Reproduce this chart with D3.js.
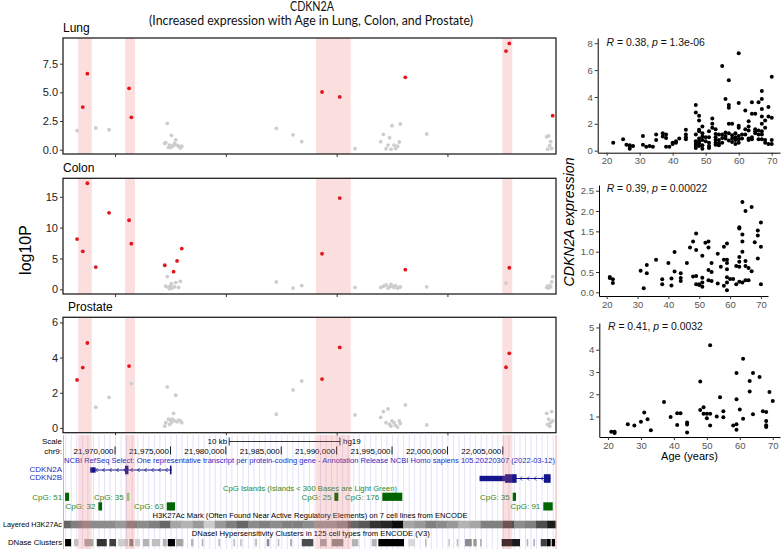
<!DOCTYPE html>
<html><head><meta charset="utf-8">
<script src="https://cdn.jsdelivr.net/npm/d3@7"></script>
<style>body{margin:0;background:#fff}svg{display:block}</style>
</head><body>
<svg id="c" width="784" height="549"></svg>
<script>
// ---------------- DATA ----------------
const probePos = [21966570,21967085,21967500,21968258,21969458,21971264,21971471,
 21974485,21974576,21974711,21974828,21974919,21975009,21975081,21975171,21975280,21975370,21975478,21975596,21975731,21975893,21976020,
 21984557,21986065,21986850,21988682,21990279,21991660,
 21993979,21994214,21994458,21994638,21994774,21994909,21994999,21995180,21995315,21995496,21995658,21995748,
 21996200,21998131,22005288,22005586,
 22008961,22009051,22009141,22009232,22009322,22009412,22009502];
const lungLog10P = [1.66,3.72,6.63,1.89,1.74,5.35,2.82,
 0.55,0.61,2.3,0.2,0.4,0.2,1.25,0.3,0.36,0.55,0.85,0.4,0.3,0.15,0.3,
 1.86,1.3,0.7,5.03,4.6,0.09,
 0.7,1.34,0.09,0.4,1.04,0.05,2.09,0.4,0.1,0.3,0.67,2.24,
 6.31,1.37,8.6,9.27,
 1.13,0.05,1.2,0.35,0.7,0.1,2.97];
const lungSig = [0,1,1,0,0,1,1, 0,0,0,0,0,0,0,0,0,0,0,0,0,0,0, 0,0,0,1,1,0, 0,0,0,0,0,0,0,0,0,0,0,0, 1,0,1,1, 0,0,0,0,0,0,1];
const colonLog10P = [8.15,6.16,17.2,3.6,12.4,11.2,7.4,
 3.9,0.5,2.05,0.3,0.1,0.6,0.9,0.2,2.86,0.4,1.1,4.6,0.3,1.3,6.6,
 1.2,0.2,0.6,5.77,14.8,0.3,
 0.3,0.5,0.7,0.2,0.4,0.8,0.5,0.3,0.6,0.2,0.3,0.4,
 3.18,0.4,1.0,3.5,
 0.3,0.5,0.2,0.6,0.4,1.2,2.05];
const colonSig = [1,1,1,1,1,1,1, 1,0,0,0,0,0,0,0,1,0,0,1,0,0,1, 0,0,0,1,1,0, 0,0,0,0,0,0,0,0,0,0,0,0, 1,0,0,1, 0,0,0,0,0,0,0];
const prostateLog10P = [2.73,3.43,4.83,1.18,1.74,3.52,2.52,
 0.1,0.3,2.33,0.5,0.2,0.45,0.3,0.5,0.83,0.4,1.86,0.35,0.45,0.4,0.3,
 0.78,2.16,2.67,2.78,4.58,0.74,
 0.6,0.93,0.3,1.08,0.2,0.1,0.4,0.3,0.15,0.05,0.4,0.25,
 1.31,0.17,3.45,4.24,
 0.83,0.2,0.5,0.1,0.3,0.93,0.4];
const prostateSig = [1,1,1,0,0,1,0, 0,0,0,0,0,0,0,0,0,0,0,0,0,0,0, 0,0,0,1,1,0, 0,0,0,0,0,0,0,0,0,0,0,0, 0,0,1,1, 0,0,0,0,0,0,0];
const highlightRegions = [[21966661,21967897],[21970903,21971805],[21988140,21991271],[22004955,22005856]];
const panelAxisTicks = [21970000,21980000,21990000,22000000];
const browserTicks = [21970000,21975000,21980000,21985000,21990000,21995000,22000000,22005000];

// genes: [start, end, height-type] blocks; 'u' = UTR (thin), 'c' = coding (thick)
const geneNames = ["CDKN2A","CDKN2B"];
const geneSpans = [[21967751,21975098],[22002903,22009312]];
const geneBlocks = [
 [[21967751,21968241,'u'],[21970901,21971207,'c'],[21974950,21975098,'c']],
 [[22002903,22005200,'u'],[22005200,22006246,'c'],[22008706,22009312,'c']]
];
// CpG islands: start, end, label, row, light
const cpgIslands = [
 [21965488,21965849,"CpG: 51",0,0],
 [21968493,21968827,"CpG: 32",1,0],
 [21971056,21971291,"CpG: 35",0,1],
 [21974666,21975415,"CpG: 63",1,0],
 [21989792,21990153,"CpG: 25",0,0],
 [21994123,21995928,"CpG: 176",0,0],
 [22005893,22006190,"CpG: 35",0,0],
 [22008654,22009502,"CpG: 91",1,0]
];
// H3K27Ac layered signal: 1 kb bins starting at 21,965,000 (darkness 0..1)
const h3k27acBinStart = 21965000;
const h3k27acDark = [0.6,0.5,0.45,0.45,0.45,0.4,0.5,0.45,0.5,0.6,0.35,0.3,0.4,0.2,0.4,0.5,0.6,0.45,0.5,0.45,
 0.5,0.5,0.45,0.4,0.4,0.45,0.6,0.65,0.8,0.85,0.95,0.35,0.4,0.5,0.45,0.4,0.3,0.35,0.5,0.5,0.7,0.45,0.5,0.7,0.9];
// DNase clusters: start, end, darkness
const dnaseClusters = [
 [21965488,21966029,1.0],[21966300,21966688,0.25],[21967229,21968042,0.35],[21968348,21969251,0.8],
 [21969486,21970090,0.75],[21970271,21971173,0.2],[21971291,21971652,0.5],[21971805,21972256,0.2],
 [21972500,21973096,0.3],[21973312,21974061,0.25],[21974305,21974666,0.3],[21974756,21975415,1.0],
 [21975505,21976164,0.35],[21976859,21977067,0.3],[21977825,21977969,0.3],[21979323,21979476,0.25],
 [21980677,21980830,0.25],[21981281,21981462,0.2],[21982635,21982816,0.25],[21983691,21983925,0.45],
 [21984684,21984828,0.25],[21985794,21985974,0.3],[21986850,21987897,0.7],[21988501,21989106,0.35],
 [21989557,21990604,0.45],[21991362,21991958,0.3],[21993167,21993618,0.3],[21993763,21996082,1.0],
 [21996470,21997075,0.15],[21997978,21998131,0.25],[22000080,22000234,0.2],[22000838,22000983,0.25],
 [22001588,22002192,0.45],[22002337,22002643,0.4],[22002941,22003095,0.3],[22004900,22006551,0.9],
 [22007156,22007300,0.3],[22007752,22007905,0.3],[22008419,22008961,0.75],[22008961,22009322,1.0],
 [22009412,22009710,1.0]
];

// scatter: [age, CDKN2A expression]
const lungExpr = [[22,0.6],[25,0.85],[26,0.45],[27,0.4],[27,0.15],[27,0.3],[28,0.35],[31,1.1],[31,0.45],[32,0.3],[33,0.35],[34,0.3],[35,1.2],[35,0.8],[37,1.3],[37,1.05],[38,1.2],[38,0.95],[38,0.3],[39,0.3],[40,0.6],[40,0.5],[41,0.7],[41,0.6],[42,0.9],[44,1.55],[44,1.2],[44,1.0],[44,0.85],
 [47,3.4],[47,2.85],[47,1.2],[47,0.7],[47,0.5],[47,0.35],[47,0.2],
 [48,2.6],[48,2.25],[48,1.55],[48,1.45],[48,0.9],[48,0.7],[48,0.55],[48,0.35],
 [49,1.8],[49,1.3],[49,1.05],[49,0.8],[49,0.4],[49,0.15],[50,1.0],[50,0.7],
 [51,1.45],[51,1.0],[51,0.6],[51,0.35],[51,0.2],[52,2.4],[52,2.0],[52,1.7],
 [53,1.6],[53,1.25],[53,1.0],[53,0.8],[53,0.6],[53,0.45],[54,1.2],[54,0.8],[54,0.55],[54,0.4],
 [55,6.3],[55,1.2],[55,0.95],[55,0.6],[56,3.85],[56,1.35],[56,1.1],[56,0.9],
 [57,5.25],[57,3.4],[57,3.2],[57,2.0],[57,1.3],[57,0.75],[58,2.0],[58,1.15],[58,0.9],[58,0.65],
 [59,1.3],[59,1.0],[59,0.8],[59,0.5],[60,7.25],[60,3.55],[60,1.85],[60,1.7],[60,1.1],[60,0.85],[60,0.6],
 [61,1.2],[61,0.9],[62,3.0],[62,1.6],[62,1.2],[63,2.2],[63,1.8],[63,1.5],[63,0.9],[63,0.8],
 [64,3.6],[64,2.75],[64,1.0],[64,0.85],[65,2.75],[65,1.6],[65,1.45],[65,1.3],[66,3.6],[66,1.5],[66,1.2],[66,0.85],
 [67,4.45],[67,3.85],[67,3.1],[67,2.55],[67,2.0],[67,1.45],[67,1.2],[67,0.85],[68,2.25],[68,1.7],[68,0.8],[68,0.6],
 [69,3.25],[69,2.55],[69,0.5],[70,5.5],[70,2.45],[70,0.8],[70,0.5]];
const colonExpr = [[21,0.38],[21,0.35],[22,0.32],[22,0.23],[31,0.53],[32,0.1],[33,0.67],[33,0.47],[36,0.8],[38,0.32],[38,0.2],[40,0.72],[41,0.34],[41,0.17],[42,0.99],[42,0.51],[44,0.47],[44,0.35],[44,0.28],[46,0.72],[47,1.1],[48,1.25],[48,0.39],[49,1.45],[49,1.04],[49,0.4],[49,0.2],[50,0.2],[50,0.18],[51,0.24],[51,0.9],[51,0.36],[51,0.14],[52,1.22],[53,1.25],[53,1.1],[53,0.55],[53,0.3],[54,0.72],[54,0.5],[54,0.28],[56,0.95],[56,0.22],[57,0.63],[58,1.12],[58,0.8],[58,0.16],[59,1.2],[59,0.8],[59,0.72],[59,0.57],[59,0.37],[59,0.24],[59,0.05],[60,0.33],[61,0.33],[62,0.65],[62,0.2],[63,1.6],[63,1.57],[63,0.87],[63,0.75],[63,0.63],[63,0.26],[64,2.22],[64,1.42],[64,1.25],[64,1.0],[64,0.24],[65,2.0],[65,0.77],[65,0.65],[65,0.3],[66,0.6],[66,0.3],[67,2.1],[67,0.52],[68,1.23],[69,1.52],[69,1.4],[69,0.83],[70,1.72],[70,1.12],[70,0.2]];
const prostateExpr = [[21,0.32],[22,0.32],[22,0.26],[26,0.65],[28,0.6],[30,0.76],[31,1.18],[32,0.88],[33,0.38],[37,1.65],[39,0.98],[41,1.15],[42,1.15],[41,0.62],[44,0.73],[44,0.64],[44,0.28],[48,2.57],[48,1.29],[49,1.42],[49,1.12],[50,1.12],[51,1.12],[50,0.92],[51,4.2],[51,0.6],[53,1.0],[54,1.86],[55,1.24],[55,0.97],[58,0.6],[59,2.96],[59,1.77],[59,0.65],[59,0.41],[60,1.32],[61,3.6],[61,0.9],[63,2.6],[63,2.12],[64,2.96],[64,1.1],[66,2.77],[67,1.24],[68,1.2],[68,0.8],[68,0.61],[68,0.53],[69,2.1],[70,1.7]];
const corrR = ["0.38","0.39","0.41"];
const corrP = ["1.3e-06","0.00022","0.0032"];
const ageTicks = [20,30,40,50,60,70];

// ---------------- DRAW ----------------
const svg = d3.select("#c");
const SANS = "'Liberation Sans', Arial, sans-serif";
const gx = d3.scaleLinear().domain([21965300, 22009800]).range([63, 556]);

// Title
svg.append("text").attr("x",312).attr("y",10.5).attr("text-anchor","middle")
  .attr("textLength",44).attr("lengthAdjust","spacingAndGlyphs")
  .style("font","12.5px Lato, 'Open Sans', sans-serif").attr("fill","#111").text("CDKN2A");
svg.append("text").attr("x",311).attr("y",25).attr("text-anchor","middle")
  .attr("textLength",324).attr("lengthAdjust","spacingAndGlyphs")
  .style("font","12.5px Lato, 'Open Sans', sans-serif").attr("fill","#111")
  .text("(Increased expression with Age in Lung, Colon, and Prostate)");

// log10P
svg.append("text").attr("transform","translate(31,250) rotate(-90)").attr("text-anchor","middle")
  .style("font",`16px ${SANS}`).attr("fill","#000").text("log10P");

const panels = [
  {name:"Lung", vals:lungLog10P, sig:lungSig, top:38, bottom:154, domain:[-0.375,9.74], ticks:[0,2.5,5,7.5], fmt:d3.format(".1f"), tx:63, ty:31.5},
  {name:"Colon", vals:colonLog10P, sig:colonSig, top:178.3, bottom:294, domain:[-0.76,18], ticks:[0,5,10,15], fmt:d3.format("d"), tx:63, ty:172},
  {name:"Prostate", vals:prostateLog10P, sig:prostateSig, top:317.3, bottom:432.7, domain:[-0.27,6.29], ticks:[0,2,4,6], fmt:d3.format("d"), tx:68, ty:310.7}
];

panels.forEach(p => {
  const y = d3.scaleLinear().domain(p.domain).range([p.bottom, p.top]);
  const g = svg.append("g");
  g.selectAll(null).data(highlightRegions).join("rect")
    .attr("x", d => gx(d[0])).attr("width", d => gx(d[1]) - gx(d[0]))
    .attr("y", p.top).attr("height", p.bottom - p.top).attr("fill", "#fbdfdf");
  const pts = probePos.map((pos, i) => ({pos, v: p.vals[i], s: p.sig[i]}));
  g.selectAll(null).data(pts.filter(d => !d.s)).join("circle")
    .attr("cx", d => gx(d.pos)).attr("cy", d => y(d.v)).attr("r", 1.9).attr("fill", "#cdcdcd");
  g.selectAll(null).data(pts.filter(d => d.s)).join("circle")
    .attr("cx", d => gx(d.pos)).attr("cy", d => y(d.v)).attr("r", 1.9).attr("fill", "#e3141b");
  g.append("rect").attr("x", 63).attr("y", p.top).attr("width", 493).attr("height", p.bottom - p.top)
    .attr("fill", "none").attr("stroke", "#222").attr("stroke-width", 1.3);
  const ya = d3.axisLeft(y).tickValues(p.ticks).tickFormat(p.fmt).tickSize(3).tickPadding(2);
  const ag = g.append("g").attr("transform", "translate(63,0)").call(ya);
  ag.select(".domain").remove();
  ag.selectAll("line").attr("stroke", "#333");
  ag.selectAll("text").style("font", `11px ${SANS}`).attr("fill", "#222");
  const xa = d3.axisBottom(gx).tickValues(panelAxisTicks).tickSize(3).tickFormat("");
  const bg = g.append("g").attr("transform", `translate(0,${p.bottom})`).call(xa);
  bg.select(".domain").remove();
  bg.selectAll("line").attr("stroke", "#333");
  g.append("text").attr("x", p.tx).attr("y", p.ty).style("font", `12px ${SANS}`).attr("fill", "#000").text(p.name);
});

// ---------------- GENOME BROWSER ----------------
const B = svg.append("g");
const bTop = 435, bBot = 549;
// guidelines
B.selectAll(null).data(d3.range(21965500, 22009800, 500)).join("line")
  .attr("x1", d => gx(d) + 0.5).attr("x2", d => gx(d) + 0.5).attr("y1", bTop).attr("y2", bBot)
  .attr("stroke", "#e2e2fb").attr("stroke-width", 1);

const small = `8px ${SANS}`;
const leftLabel = (t, y, col, len) => {
  const el = B.append("text").attr("x", 62).attr("y", y).attr("text-anchor", "end")
    .style("font", small).attr("fill", col || "#000").text(t);
  if (len) el.attr("textLength", len).attr("lengthAdjust", "spacingAndGlyphs");
};
leftLabel("Scale", 444.3);
leftLabel("chr9:", 454);
leftLabel("CDKN2A", 471.7, "#2b2bc0");
leftLabel("CDKN2B", 480.3, "#2b2bc0");
leftLabel("Layered H3K27Ac", 527, "#000", 59);
leftLabel("DNase Clusters", 545, "#000", 54);

// scale bar (10 kb)
const sb0 = 21985000 - 5000 + 300, sb1 = sb0 + 10000;
B.append("line").attr("x1", gx(sb0)).attr("x2", gx(sb1)).attr("y1", 441.5).attr("y2", 441.5).attr("stroke", "#000").attr("stroke-width", 0.8);
[sb0, sb1].forEach(v => B.append("line").attr("x1", gx(v)).attr("x2", gx(v)).attr("y1", 437.5).attr("y2", 445.5).attr("stroke", "#000").attr("stroke-width", 0.8));
B.append("text").attr("x", gx(sb0) - 2).attr("y", 444.3).attr("text-anchor", "end").style("font", small).text("10 kb");
B.append("text").attr("x", gx(sb1) + 3).attr("y", 444.3).style("font", small).text("hg19");

// position ruler
B.selectAll(null).data(browserTicks).join("text")
  .attr("x", d => gx(d) - 1.5).attr("y", 454).attr("text-anchor", "end")
  .style("font", small).attr("fill", "#000").text(d3.format(","));
B.selectAll(null).data(browserTicks).join("line")
  .attr("x1", d => gx(d)).attr("x2", d => gx(d)).attr("y1", 446.5).attr("y2", 454.5)
  .attr("stroke", "#000").attr("stroke-width", 0.9);

// RefSeq header
B.append("text").attr("x", 309.5).attr("y", 463.3).attr("text-anchor", "middle")
  .attr("textLength", 491).attr("lengthAdjust", "spacingAndGlyphs")
  .style("font", small).attr("fill", "#2b2bc0")
  .text("NCBI RefSeq Select: One representative transcript per protein-coding gene - Annotation Release NCBI Homo sapiens 105.20220307 (2022-03-12)");

// gene models
const geneCol = "#14148c";
const geneY = [470, 478.5];
geneSpans.forEach((sp, i) => {
  const yc = geneY[i];
  B.append("line").attr("x1", gx(sp[0])).attr("x2", gx(sp[1])).attr("y1", yc).attr("y2", yc)
    .attr("stroke", geneCol).attr("stroke-width", 1);
  const xs = d3.range(gx(sp[0]) + 6, gx(sp[1]) - 3, 7);
  B.selectAll(null).data(xs).join("path")
    .attr("d", x => `M${x + 1.5},${yc - 2}L${x - 0.5},${yc}L${x + 1.5},${yc + 2}`)
    .attr("fill", "none").attr("stroke", geneCol).attr("stroke-width", 0.8);
  B.selectAll(null).data(geneBlocks[i]).join("rect")
    .attr("x", d => gx(d[0])).attr("width", d => Math.max(1.2, gx(d[1]) - gx(d[0])))
    .attr("y", d => d[2] === 'c' ? yc - 4.3 : yc - 2.7)
    .attr("height", d => d[2] === 'c' ? 8.6 : 5.4)
    .attr("fill", geneCol);
});

// CpG islands
B.append("text").attr("x", 310).attr("y", 490.7).attr("text-anchor", "middle")
  .attr("textLength", 174).attr("lengthAdjust", "spacingAndGlyphs")
  .style("font", small).attr("fill", "#2a8a2a").text("CpG Islands (Islands < 300 Bases are Light Green)");
const cpgRowY = [492.7, 502.3];
B.selectAll(null).data(cpgIslands).join("rect")
  .attr("x", d => gx(d[0])).attr("width", d => gx(d[1]) - gx(d[0]))
  .attr("y", d => cpgRowY[d[3]]).attr("height", 8.2)
  .attr("fill", d => d[4] ? "#88d088" : "#006400");
B.selectAll(null).data(cpgIslands).join("text")
  .attr("x", d => gx(d[0]) - 3).attr("y", d => cpgRowY[d[3]] + 6.8).attr("text-anchor", "end")
  .style("font", small).attr("fill", "#2a8a2a").text(d => d[2]);

// H3K27Ac
B.append("text").attr("x", 310).attr("y", 518.3).attr("text-anchor", "middle")
  .attr("textLength", 315).attr("lengthAdjust", "spacingAndGlyphs")
  .style("font", small).attr("fill", "#000")
  .text("H3K27Ac Mark (Often Found Near Active Regulatory Elements) on 7 cell lines from ENCODE");
const grey = d3.interpolateRgb("#ffffff", "#000000");
const h3Bins = h3k27acDark.map((v, i) => ({s: Math.max(h3k27acBinStart + i * 1000, gx.domain()[0]), e: Math.min(h3k27acBinStart + (i + 1) * 1000, gx.domain()[1]), v}));
B.selectAll(null).data(h3Bins).join("rect")
  .attr("x", d => gx(d.s)).attr("width", d => gx(d.e) - gx(d.s) + 0.3)
  .attr("y", 520.7).attr("height", 7.6).attr("fill", d => grey(d.v));

// DNase
B.append("text").attr("x", 310.8).attr("y", 536).attr("text-anchor", "middle")
  .attr("textLength", 238).attr("lengthAdjust", "spacingAndGlyphs")
  .style("font", small).attr("fill", "#000")
  .text("DNaseI Hypersensitivity Clusters in 125 cell types from ENCODE (V3)");
B.selectAll(null).data(dnaseClusters).join("rect")
  .attr("x", d => gx(d[0])).attr("width", d => Math.max(1, gx(d[1]) - gx(d[0])))
  .attr("y", 539).attr("height", 7.3).attr("fill", d => grey(d[2]));

// highlight bands in browser + window edges
B.selectAll(null).data(highlightRegions).join("rect")
  .attr("x", d => gx(d[0])).attr("width", d => gx(d[1]) - gx(d[0]))
  .attr("y", bTop).attr("height", bBot - bTop).attr("fill", "rgba(238,110,110,0.22)");
[63.5, 556].forEach(x => B.append("line").attr("x1", x).attr("x2", x).attr("y1", bTop).attr("y2", bBot)
  .attr("stroke", "#f3a5a5").attr("stroke-width", 1));

// ---------------- SCATTER PLOTS ----------------
const scat = [
  {data: lungExpr, xd:[17.3,72.5], xr:[597.7,780], yd:[-0.15,8.39], yr:[152.7,38], yt:[0,2,4,6,8], yf:d3.format("d"), ly:45.7},
  {data: colonExpr, xd:[17.5,72.3], xr:[599,768], yd:[-0.09,2.64], yr:[296,185], yt:[0,0.5,1,1.5,2,2.5], yf:d3.format(".1f"), ly:192.3},
  {data: prostateExpr, xd:[17.36,72.2], xr:[599.3,780], yd:[0.08,5.2], yr:[437,323], yt:[1,2,3,4,5], yf:d3.format("d"), ly:330}
];
scat.forEach((s, i) => {
  const x = d3.scaleLinear().domain(s.xd).range(s.xr);
  const y = d3.scaleLinear().domain(s.yd).range(s.yr);
  const g = svg.append("g");
  const xa = g.append("g").attr("transform", `translate(0,${s.yr[0]})`)
    .call(d3.axisBottom(x).tickValues(ageTicks).tickSize(3).tickSizeOuter(0).tickPadding(2));
  const ya = g.append("g").attr("transform", `translate(${s.xr[0]},0)`)
    .call(d3.axisLeft(y).tickValues(s.yt).tickFormat(s.yf).tickSize(3).tickSizeOuter(0).tickPadding(2));
  [xa, ya].forEach(a => {
    a.select(".domain").attr("stroke", "#000").attr("stroke-width", 1);
    a.selectAll(".tick line").attr("stroke", "#333");
    a.selectAll("text").style("font", `9.5px ${SANS}`).attr("fill", "#555");
  });
  g.selectAll(null).data(s.data).join("circle")
    .attr("cx", d => x(d[0])).attr("cy", d => y(d[1])).attr("r", 2).attr("fill", "#000");
  const t = g.append("text").attr("x", x(20)).attr("y", s.ly).style("font", `10.4px ${SANS}`).attr("fill", "#111");
  t.append("tspan").style("font-style", "italic").text("R");
  t.append("tspan").text(` = ${corrR[i]}, `);
  t.append("tspan").style("font-style", "italic").text("p");
  t.append("tspan").text(` = ${corrP[i]}`);
});
svg.append("text").attr("transform", "translate(574,222) rotate(-90)").attr("text-anchor", "middle")
  .attr("textLength", 129).attr("lengthAdjust", "spacingAndGlyphs")
  .style("font", `italic 14px ${SANS}`).attr("fill", "#000").text("CDKN2A expression");
svg.append("text").attr("x", 689.5).attr("y", 460).attr("text-anchor", "middle")
  .style("font", `11px ${SANS}`).attr("fill", "#000").text("Age (years)");
</script>
</body></html>
